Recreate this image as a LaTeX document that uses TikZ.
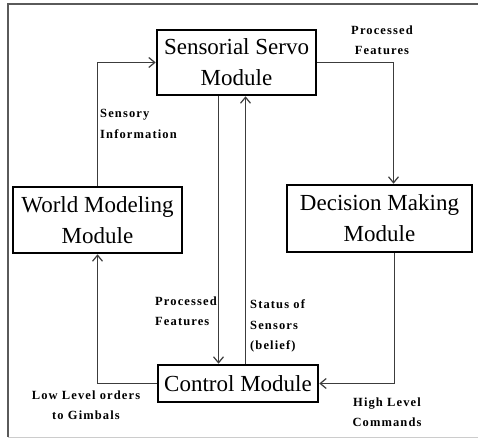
\documentclass[tikz,border=0pt]{standalone}
\usepackage{fontspec}
\setmainfont{Liberation Serif}
\newfontfamily\lblfont[LetterSpace=9]{Liberation Serif}
\usetikzlibrary{arrows.meta}
\definecolor{framegray}{RGB}{90,90,90}
\definecolor{linegray}{RGB}{60,60,60}

\begin{document}
\begin{tikzpicture}[x=1pt,y=-1pt,
    module/.style={draw=black,line width=2.6pt,inner sep=0pt,align=center,
        font=\fontsize{23}{31}\selectfont},
    conn/.style={draw=linegray,line width=1.2pt,-{Straight Barb[length=6pt,width=10pt]}},
    lbl/.style={inner sep=0pt,font=\lblfont\fontsize{12.5}{20.5}\selectfont\bfseries}]
 \useasboundingbox (0,0) rectangle (478,443);
 \fill[white] (0,0) rectangle (478,443);
 % frame
 \draw[framegray,line width=1.5pt] (478,4) -- (8,4) -- (8,437);
 \draw[gray!40,line width=0.8pt] (8,437) -- (478,437);
 % modules
 \node [module,minimum width=159pt,minimum height=65pt] (sens) at (236.5,62.5)
    {Sensorial Servo\\Module};
 \node [module,minimum width=169pt,minimum height=66pt] (world) at (97.5,220)
    {World Modeling\\Module};
 \node [module,minimum width=185pt,minimum height=67pt] (dec) at (379.5,218.5)
    {Decision Making\\Module};
 \node [module,minimum width=160pt,minimum height=37pt] (ctrl) at (238,383.5)
    {Control Module};
 % connectors
 \draw [conn] (world.north) |- (sens.west);
 \draw [conn] (sens.east) -| ([xshift=14pt]dec.north);
 \draw [conn] ([xshift=-18pt]sens.south) -- ([xshift=-18pt]sens.south |- ctrl.north);
 \draw [conn] ([xshift=7.5pt]ctrl.north) -- ([xshift=7.5pt]ctrl.north |- sens.south);
 \draw [conn] ([xshift=15pt]dec.south) |- (ctrl.east);
 \draw [conn] (ctrl.west) -| (world.south);
 % labels
 \node [lbl,align=center] (lproc) at (382,40) {Processed\\Features};
 \node [lbl,align=left,anchor=west] (lsens) at (100,124) {Sensory\\Information};
 \node [lbl,align=left,anchor=west] (lfeat) at (155,311) {Processed\\Features};
 \node [lbl,align=left,anchor=west] (lstat) at (250,326) {Status of\\Sensors\\(belief)};
 \node [lbl,align=center] (llow) at (86,405) {Low Level orders\\to Gimbals};
 \node [lbl,align=center] (lhigh) at (387,412) {High Level\\Commands};
\end{tikzpicture}
\end{document}
